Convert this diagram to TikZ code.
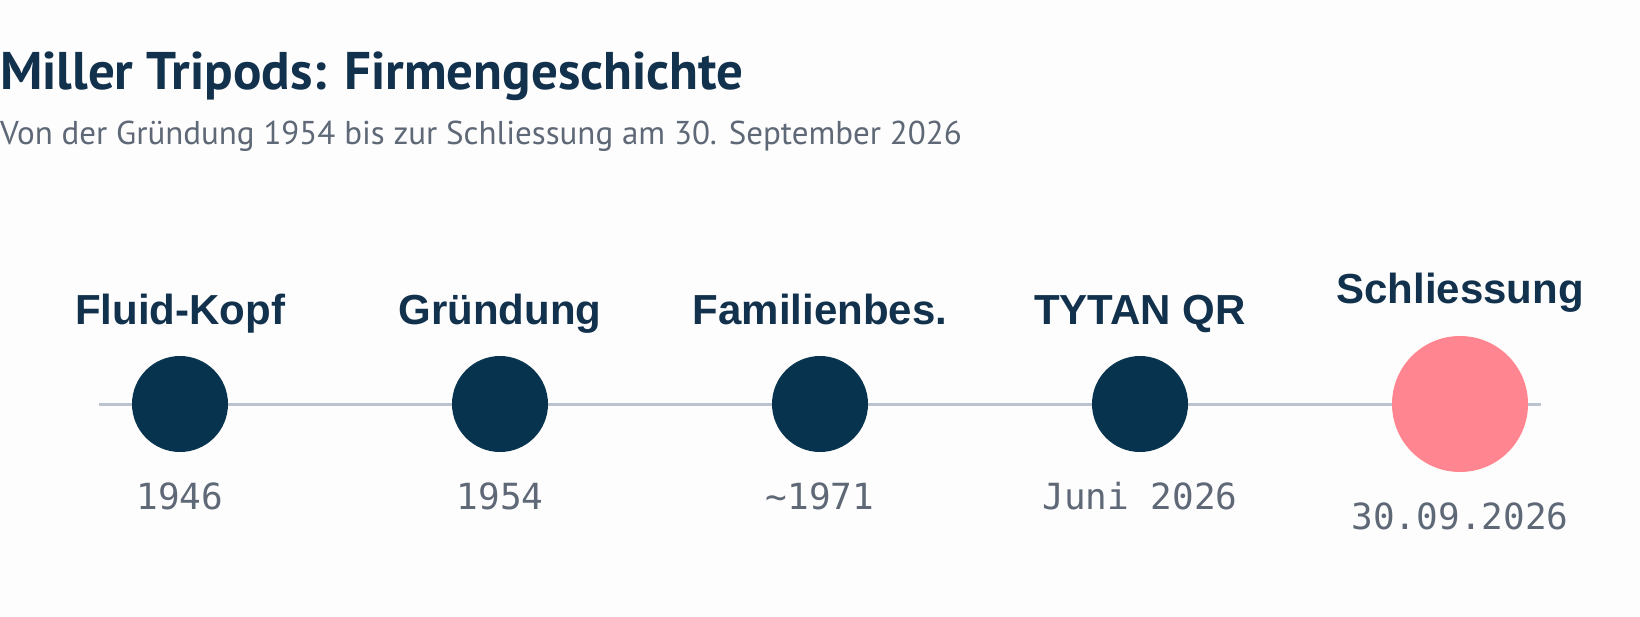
\documentclass[tikz,border=0pt]{standalone}
\usepackage{fontspec}
\setmainfont{Liberation Sans}
\newfontfamily\headfont{PT Sans}
\newfontfamily\datefont{DejaVu Sans Mono}
\definecolor{navy}{HTML}{08334F}
\definecolor{titleblue}{HTML}{12314C}
\definecolor{greytext}{HTML}{5E6876}
\definecolor{linegrey}{HTML}{BAC3CE}
\definecolor{coral}{HTML}{FF8690}
\definecolor{paper}{HTML}{FDFDFD}
\tikzset{
  dot/.style={circle, fill=navy, minimum size=96pt, inner sep=0pt, outer sep=0pt},
  enddot/.style={circle, fill=coral, minimum size=136pt, inner sep=0pt, outer sep=0pt},
  eventlabel/.style={anchor=base, text=titleblue, font=\fontsize{42}{48}\selectfont\bfseries},
  datelabel/.style={anchor=base, text=greytext, font=\fontsize{36}{40}\datefont}
}

\begin{document}
\begin{tikzpicture}[x=1pt, y=1pt]
    % Rahmen
    \fill[paper] (0,0) rectangle (1640,-616);
    \useasboundingbox (0,0) rectangle (1640,-616);

    % Kopf
    \node (title) [anchor=base west, inner sep=0pt, text=titleblue,
        font=\fontsize{53}{58}\headfont\bfseries] at (0,-89) {Miller Tripods: Firmengeschichte};
    \node (subtitle) [anchor=base west, inner sep=0pt, text=greytext,
        font=\fontsize{33}{38}\headfont] at (0,-144) {Von der Gründung 1954 bis zur Schliessung am 30. September 2026};

    % Zeitstrahl
    \coordinate (lstart) at (99,-404);
    \coordinate (lend) at (1541,-404);
    \draw[linegrey, line width=3pt] (lstart) -- (lend);

    % Punkte
    \node (p1) [dot] at (180,-404) {};
    \node (p2) [dot] at (500,-404) {};
    \node (p3) [dot] at (820,-404) {};
    \node (p4) [dot] at (1140,-404) {};
    \node (p5) [enddot] at (1460,-404) {};

    % Beschriftungen oben
    \node (l1) [eventlabel] at (180,-324) {Fluid-Kopf};
    \node (l2) [eventlabel] at (500,-324) {Gründung};
    \node (l3) [eventlabel] at (820,-324) {Familienbes.};
    \node (l4) [eventlabel] at (1140,-324) {TYTAN QR};
    \node (l5) [eventlabel] at (1460,-303) {Schliessung};

    % Daten unten
    \node (d1) [datelabel] at (180,-509) {1946};
    \node (d2) [datelabel] at (500,-509) {1954};
    \node (d3) [datelabel] at (820,-509) {\textasciitilde 1971};
    \node (d4) [datelabel] at (1140,-509) {Juni 2026};
    \node (d5) [datelabel] at (1460,-529) {30.09.2026};
\end{tikzpicture}
\end{document}
